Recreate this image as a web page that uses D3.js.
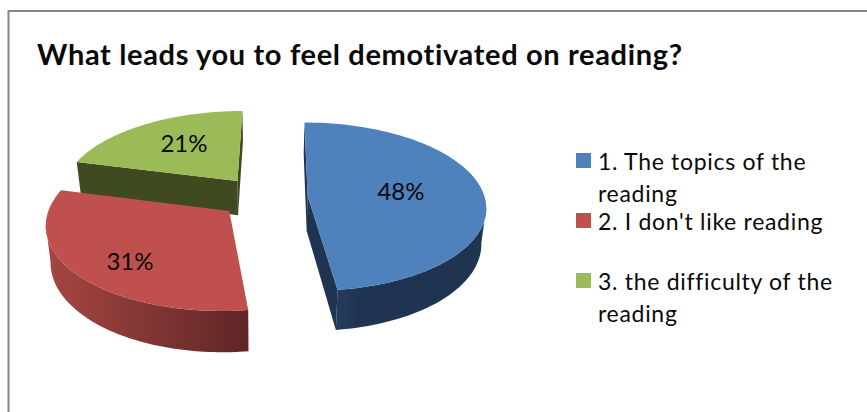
<!DOCTYPE html>
<html><head><meta charset="utf-8">
<script src="https://cdnjs.cloudflare.com/ajax/libs/d3/7.8.5/d3.min.js"></script>
<style>html,body{margin:0;padding:0;background:#fff}svg{display:block}text{font-family:Lato,"Open Sans",sans-serif;fill:#0a0a0a}</style>
</head><body><svg id="c" width="867" height="412"></svg>
<script>
const title = "What leads you to feel demotivated on reading?";
const categories = ["1. The topics of the reading","2. I don't like reading","3. the difficulty of the reading"];
const legendLines = [["1. The topics of the","reading"],["2. I don't like reading"],["3. the difficulty of the","reading"]];
const values = [48,31,21];
const labels = ["48%","31%","21%"];
const topColors = ["#4f81bd","#c0504d","#9bbb59"];
const wallDark = ["#1f3450","#5e2625","#3f4a20"];
const wallLight = ["#2b4a70","#a64643","#3f4a20"];
const wallMidStop = [0.3,1,1];

const svg = d3.select("#c");
const W=867,H=412;
const X0=263.5,Y0=197,Rx=177,Ry=83,P=0.13,D=35,EXPLODE=0.25,SHEAR=-2;

const defs=svg.append("defs");
svg.append("path").attr("d",`M8.5 ${H}V11H${W}`).attr("fill","none").attr("stroke","#868686").attr("stroke-width",2);
svg.append("text").attr("x",37).attr("y",65).attr("font-size",29).attr("font-weight",700).attr("letter-spacing",0.65).text(title);

function project(u,v,z){
  const w=1-P*v, k=1-0.022*z;
  return [X0+SHEAR*v+Rx*u*k/w, Y0+(Ry*v+D*z)/w];
}
const arcs=d3.pie().sort(null).value(d=>d)(values);
const g=svg.append("g").style("filter","blur(0.5px)");
const line=d3.line();
[2,1,0].forEach(i=>{
  const a=arcs[i], mid=(a.startAngle+a.endAngle)/2;
  const ox=Math.sin(mid)*EXPLODE, oy=-Math.cos(mid)*EXPLODE;
  const n=90, ang=d3.range(n+1).map(k=>d3.interpolateNumber(a.startAngle,a.endAngle)(k/n));
  const poly=[[ox,oy]].concat(ang.map(t=>[ox+Math.sin(t),oy-Math.cos(t)]));
  const top=poly.map(p=>project(p[0],p[1],0));
  const bot=poly.map(p=>project(p[0],p[1],1));
  const xs=d3.extent(top.slice(1),p=>p[0]);
  const id="wall"+i;
  const grad=defs.append("linearGradient").attr("id",id).attr("gradientUnits","userSpaceOnUse")
    .attr("x1",xs[0]).attr("x2",xs[1]).attr("y1",0).attr("y2",0);
  grad.append("stop").attr("offset",0).attr("stop-color",wallLight[i]);
  grad.append("stop").attr("offset",wallMidStop[i]).attr("stop-color",wallDark[i]);
  const arcIdx=d3.range(1,poly.length-1).filter(k=>top[k+1][0]<top[k][0]);
  if(arcIdx.length){
    const idx=arcIdx.concat(arcIdx[arcIdx.length-1]+1);
    const shape=idx.map(k=>top[k]).concat(idx.slice().reverse().map(k=>bot[k]));
    g.append("path").attr("d",line(shape)+"Z").attr("fill",`url(#${id})`);
  }
  [[0,1],[poly.length-1,0]].forEach(([k,m])=>{
    if(top[m][0]>=top[k][0]) return;
    g.append("path").attr("d",line([top[k],top[m],bot[m],bot[k]])+"Z").attr("fill",wallDark[i]);
  });
  g.append("path").attr("d",line(top)+"Z").attr("fill",topColors[i]);
});
const labelPos=[[401,200],[130,270],[184,152]];
labels.forEach((t,i)=>svg.append("text").attr("x",labelPos[i][0]).attr("y",labelPos[i][1]).attr("text-anchor","middle").attr("font-size",24).text(t));
const legendY=d3.scalePoint().domain(categories).range([153,273]);
categories.forEach((c,i)=>{
  const y=legendY(c);
  svg.append("rect").attr("x",576).attr("y",y).attr("width",15).attr("height",15).attr("fill",topColors[i]);
  legendLines[i].forEach((l,j)=>svg.append("text").attr("x",598).attr("y",y+17+32*j).attr("font-size",23).attr("letter-spacing",0.7).text(l));
});
</script></body></html>
